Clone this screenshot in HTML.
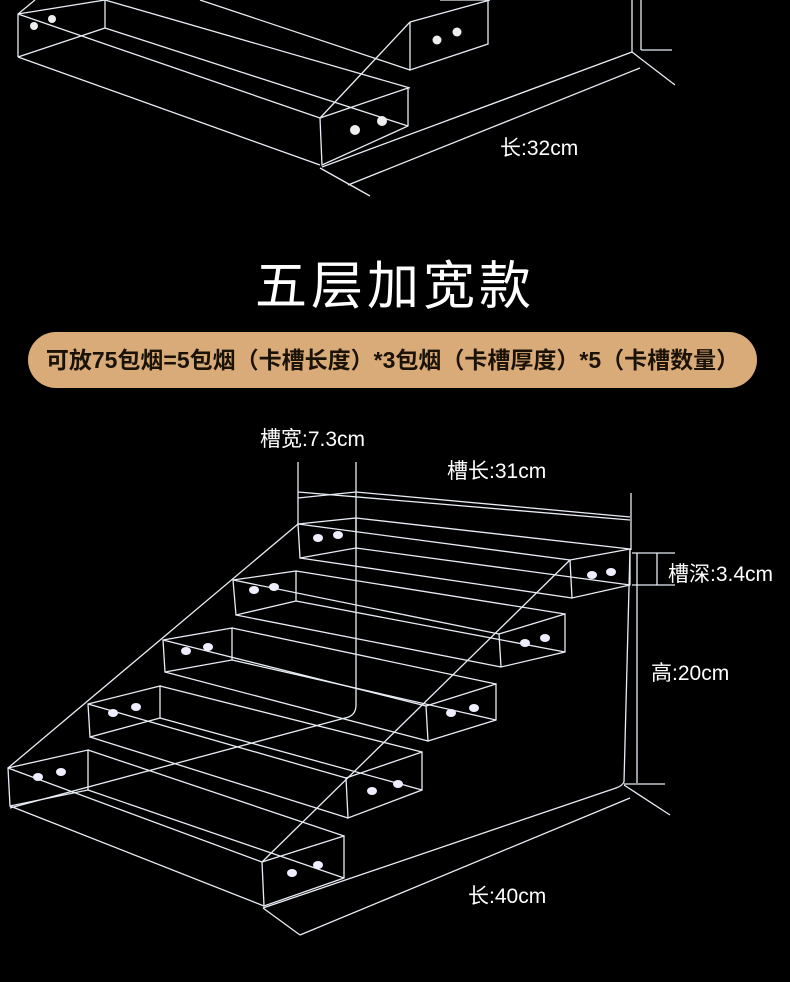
<!DOCTYPE html>
<html><head><meta charset="utf-8"><style>
html,body{margin:0;padding:0;background:#000;}
body{width:790px;height:982px;position:relative;overflow:hidden;font-family:"Liberation Sans","Noto Sans CJK SC",sans-serif;}
.t{position:absolute;color:#fff;white-space:nowrap;font-size:21px;}
.pill{position:absolute;left:28px;top:332px;width:729px;height:56px;border-radius:28px;background:#d9ab78;color:#1a1206;font-weight:bold;font-size:23px;line-height:56px;text-align:center;}
</style></head><body>
<svg width="790" height="982" style="position:absolute;left:0;top:0" fill="none" stroke="#e8ecf4" stroke-width="1.3">
<g>
<polyline points="35,0 18,14 18,57"/>
<polyline points="18,14 105,0"/>
<line x1="18" y1="57" x2="105" y2="28"/>
<line x1="105" y1="0" x2="105" y2="28"/>
<line x1="18" y1="57" x2="320" y2="165"/>
<line x1="18" y1="14" x2="320" y2="118"/>
<line x1="105" y1="28" x2="408" y2="126"/>
<line x1="105" y1="0" x2="410" y2="88"/>
<line x1="200" y1="0" x2="410" y2="70"/>
<polyline points="320,118 408,88 408,126 322,165 320,118"/>
<line x1="320" y1="118" x2="410" y2="22"/>
<line x1="410" y1="22" x2="490" y2="0"/>
<polyline points="410,22 410,70 488,44 488,0"/>
<line x1="440" y1="0" x2="488" y2="0"/>
<line x1="322" y1="167" x2="632" y2="52"/>
<line x1="632" y1="0" x2="632" y2="52"/>
<line x1="641" y1="0" x2="641" y2="50"/>
<line x1="641" y1="50" x2="672" y2="50"/>
<line x1="632" y1="52" x2="675" y2="85"/>
<line x1="320" y1="168" x2="370" y2="196"/>
<line x1="348" y1="185" x2="640" y2="68"/>
</g>
<g fill="#eee" stroke="none">
<circle cx="34" cy="26" r="4"/><circle cx="52" cy="19" r="4"/>
<circle cx="437" cy="40" r="4.5"/><circle cx="457" cy="32" r="4.5"/>
<circle cx="355" cy="130" r="5"/><circle cx="382" cy="121" r="5"/>
</g>
<g>
<line x1="298" y1="462" x2="298" y2="524"/>
<line x1="356" y1="462" x2="356" y2="705"/>
<path d="M356,705 Q356,716 345,718 L10,808"/>
<line x1="298" y1="492" x2="630" y2="520"/>
<line x1="298" y1="498" x2="356" y2="492"/>
<line x1="356" y1="492" x2="630" y2="517"/>
<line x1="631" y1="493" x2="631" y2="550"/>
<line x1="630" y1="549" x2="624" y2="782"/>
<path d="M624,782 Q622,786 616,788 L263,908"/>
<line x1="624" y1="785" x2="670" y2="815"/>
<line x1="630" y1="798" x2="300" y2="935"/>
<line x1="263" y1="908" x2="300" y2="935"/>
<line x1="637" y1="553" x2="637" y2="783"/>
<line x1="624" y1="784" x2="665" y2="784"/>
<line x1="657" y1="553" x2="657" y2="585"/>
<line x1="632" y1="553" x2="675" y2="553"/>
<line x1="632" y1="585" x2="675" y2="585"/>
<line x1="8" y1="768" x2="298" y2="524"/>
<line x1="262" y1="862" x2="570" y2="560"/>
<polygon points="8,768 88,750 88,790 10,806"/>
<polygon points="262,862 344,836 344,878 264,906"/>
<line x1="8" y1="768" x2="262" y2="862"/><line x1="88" y1="750" x2="344" y2="836"/>
<line x1="10" y1="806" x2="264" y2="906"/><line x1="88" y1="790" x2="344" y2="878"/>
<polygon points="88,704 160,686 160,718 90,737"/>
<polygon points="346,778 422,752 422,790 348,818"/>
<line x1="88" y1="704" x2="346" y2="778"/><line x1="160" y1="686" x2="422" y2="752"/>
<line x1="90" y1="737" x2="348" y2="818"/><line x1="160" y1="718" x2="422" y2="790"/>
<polygon points="163,640 232,628 232,660 165,672"/>
<polygon points="426,706 496,684 496,720 428,741"/>
<line x1="163" y1="640" x2="426" y2="706"/><line x1="232" y1="628" x2="496" y2="684"/>
<line x1="165" y1="672" x2="428" y2="741"/><line x1="232" y1="660" x2="496" y2="720"/>
<polygon points="233,580 296,571 296,601 236,615"/>
<polygon points="499,634 565,614 565,652 501,667"/>
<line x1="233" y1="580" x2="499" y2="634"/><line x1="296" y1="571" x2="565" y2="614"/>
<line x1="236" y1="615" x2="501" y2="667"/><line x1="296" y1="601" x2="565" y2="652"/>
<polygon points="298,524 356,518 356,548 300,558"/>
<polygon points="570,560 630,549 630,585 572,598"/>
<line x1="298" y1="524" x2="570" y2="560"/><line x1="356" y1="518" x2="630" y2="549"/>
<line x1="300" y1="558" x2="572" y2="598"/><line x1="356" y1="548" x2="630" y2="585"/>
</g>
<g fill="#eef" stroke="none">
<ellipse cx="38" cy="777" rx="5" ry="4"/><ellipse cx="61" cy="772" rx="5" ry="4"/>
<ellipse cx="113" cy="713" rx="5" ry="4"/><ellipse cx="136" cy="707" rx="5" ry="4"/>
<ellipse cx="186" cy="651" rx="5" ry="4"/><ellipse cx="208" cy="647" rx="5" ry="4"/>
<ellipse cx="254" cy="590" rx="5" ry="4"/><ellipse cx="274" cy="587" rx="5" ry="4"/>
<ellipse cx="318" cy="538" rx="5" ry="4"/><ellipse cx="338" cy="535" rx="5" ry="4"/>
<ellipse cx="292" cy="873" rx="5" ry="4"/><ellipse cx="318" cy="865" rx="5" ry="4"/>
<ellipse cx="372" cy="791" rx="5" ry="4"/><ellipse cx="398" cy="784" rx="5" ry="4"/>
<ellipse cx="451" cy="713" rx="5" ry="4"/><ellipse cx="474" cy="708" rx="5" ry="4"/>
<ellipse cx="525" cy="643" rx="5" ry="4"/><ellipse cx="545" cy="638" rx="5" ry="4"/>
<ellipse cx="592" cy="575" rx="5" ry="4"/><ellipse cx="611" cy="572" rx="5" ry="4"/>
</g>
</svg>
<div class="t" style="left:500px;top:132px;">长:32cm</div>
<div class="t" style="left:0;width:790px;text-align:center;top:244px;font-size:52px;letter-spacing:4px;">五层加宽款</div>
<div class="pill">可放75包烟=5包烟（卡槽长度）*3包烟（卡槽厚度）*5（卡槽数量）</div>
<div class="t" style="left:260px;top:423px;">槽宽:7.3cm</div>
<div class="t" style="left:447px;top:455px;">槽长:31cm</div>
<div class="t" style="left:668px;top:558px;">槽深:3.4cm</div>
<div class="t" style="left:651px;top:657px;">高:20cm</div>
<div class="t" style="left:468px;top:880px;">长:40cm</div>
</body></html>
